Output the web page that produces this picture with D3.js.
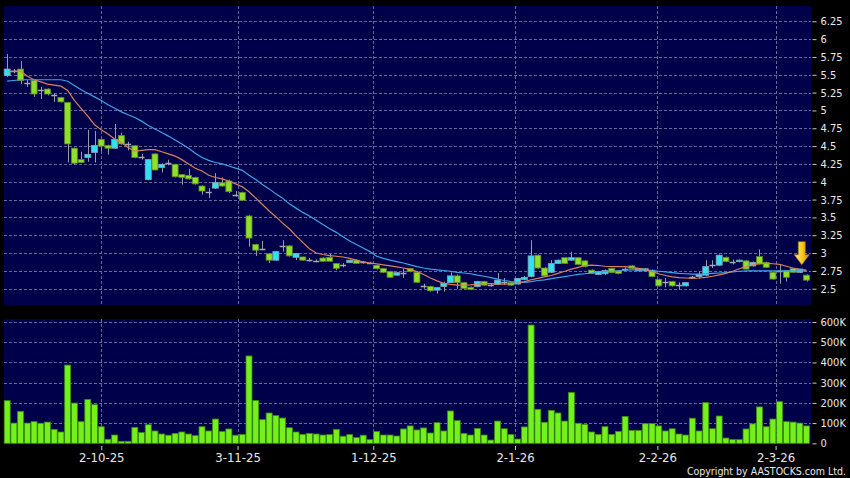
<!DOCTYPE html>
<html>
<head>
<meta charset="utf-8">
<script src="https://cdn.jsdelivr.net/npm/d3@7/dist/d3.min.js"></script>
<style>
body { margin: 0; background: #000; }
svg { display: block; }
</style>
</head>
<body>
<div id="chart"></div>
<script>
const w = 850;
const h = 478;

// daily OHLC, index 0 = first trading day shown
const open = [5.49,5.56,5.58,5.39,5.42,5.28,5.30,5.22,5.18,5.11,
  4.47,4.31,4.34,4.41,4.595,4.51,4.47,4.65,4.525,4.505,
  4.35,4.03,4.39,4.20,4.26,4.245,4.10,4.09,4.06,3.94,
  3.86,3.91,3.985,4.01,3.82,3.85,3.52,3.12,3.06,2.99,
  2.90,3.10,3.10,2.94,2.945,2.905,2.89,2.93,2.94,2.855,
  2.83,2.865,2.90,2.87,2.865,2.83,2.785,2.74,2.69,2.725,
  2.785,2.73,2.54,2.53,2.48,2.53,2.585,2.68,2.585,2.52,
  2.53,2.60,2.555,2.56,2.60,2.585,2.565,2.63,2.67,2.97,
  2.79,2.73,2.855,2.935,2.90,2.935,2.89,2.76,2.70,2.71,
  2.785,2.75,2.775,2.82,2.75,2.75,2.76,2.63,2.59,2.60,
  2.55,2.54,2.66,2.67,2.69,2.83,2.83,2.94,2.87,2.88,
  2.89,2.82,2.95,2.87,2.73,2.75,2.75,2.785,2.73,2.69];
const close = [5.58,5.56,5.42,5.39,5.23,5.28,5.23,5.22,5.12,4.53,
  4.26,4.27,4.385,4.51,4.50,4.47,4.595,4.53,4.525,4.34,
  4.35,4.31,4.165,4.245,4.26,4.07,4.06,4.04,3.97,3.87,
  3.86,3.99,3.94,3.86,3.82,3.74,3.21,3.04,3.06,2.90,
  3.02,3.10,2.96,2.995,2.90,2.905,2.89,2.885,2.885,2.785,
  2.83,2.90,2.855,2.87,2.865,2.78,2.73,2.66,2.725,2.725,
  2.74,2.59,2.54,2.47,2.515,2.575,2.68,2.585,2.505,2.49,
  2.60,2.55,2.555,2.62,2.60,2.55,2.645,2.66,2.96,2.79,
  2.68,2.855,2.90,2.855,2.935,2.84,2.81,2.715,2.74,2.755,
  2.725,2.715,2.775,2.785,2.785,2.78,2.67,2.54,2.59,2.54,
  2.55,2.585,2.66,2.70,2.81,2.83,2.97,2.88,2.87,2.90,
  2.775,2.87,2.845,2.80,2.635,2.75,2.66,2.73,2.775,2.62];
const high = [5.79,5.58,5.69,5.43,5.43,5.33,5.31,5.24,5.19,5.12,
  4.48,4.42,4.73,4.71,4.60,4.52,4.81,4.69,4.56,4.51,
  4.39,4.32,4.40,4.26,4.31,4.25,4.11,4.18,4.07,3.95,
  3.91,4.12,4.06,4.03,3.87,3.86,3.53,3.13,3.17,3.00,
  3.03,3.18,3.11,3.00,2.95,2.93,2.91,2.94,2.99,2.86,
  2.86,2.91,2.91,2.89,2.88,2.84,2.79,2.75,2.73,2.78,
  2.79,2.74,2.57,2.54,2.52,2.60,2.73,2.70,2.59,2.53,
  2.61,2.61,2.57,2.72,2.65,2.59,2.65,2.68,3.18,2.98,
  2.80,2.90,2.91,2.94,3.02,2.94,2.90,2.77,2.75,2.77,
  2.79,2.76,2.80,2.83,2.79,2.79,2.77,2.64,2.65,2.61,
  2.59,2.59,2.68,2.74,2.90,2.90,2.98,2.95,2.91,2.91,
  2.90,2.88,3.05,2.88,2.74,2.83,2.76,2.79,2.78,2.70];
const low = [5.47,5.52,5.37,5.33,5.19,5.16,5.21,5.12,5.11,4.27,
  4.24,4.26,4.28,4.27,4.43,4.38,4.46,4.52,4.44,4.33,
  4.31,4.02,4.16,4.13,4.23,4.06,3.96,4.03,3.96,3.82,
  3.77,3.90,3.93,3.84,3.79,3.73,3.09,2.96,3.04,2.86,
  2.89,3.02,2.95,2.90,2.89,2.88,2.87,2.88,2.88,2.76,
  2.80,2.86,2.85,2.85,2.85,2.77,2.72,2.65,2.68,2.65,
  2.73,2.58,2.50,2.46,2.43,2.46,2.58,2.50,2.49,2.48,
  2.52,2.54,2.53,2.55,2.55,2.54,2.56,2.62,2.66,2.78,
  2.67,2.72,2.85,2.85,2.89,2.83,2.80,2.71,2.69,2.69,
  2.72,2.70,2.75,2.77,2.74,2.74,2.66,2.53,2.52,2.53,
  2.49,2.53,2.64,2.64,2.68,2.79,2.82,2.87,2.84,2.87,
  2.77,2.81,2.84,2.79,2.63,2.57,2.60,2.72,2.72,2.60];

// volume in thousands of shares
const volume = [211,100,158,100,107,99,105,69,56,387,
  199,107,217,191,82,20,41,10,10,79,
  53,92,61,46,40,49,56,46,38,82,
  61,120,58,71,40,44,432,212,117,150,
  137,125,77,56,44,49,46,41,43,69,
  35,43,28,40,18,59,41,41,36,71,
  86,66,76,51,102,61,160,112,49,41,
  74,41,16,110,72,43,21,81,585,168,
  104,163,150,110,252,99,94,56,44,82,
  44,59,133,64,64,97,97,86,61,72,
  46,41,124,61,201,72,135,26,18,18,
  71,96,180,82,120,206,107,105,100,86];

// moving averages as drawn (orange = short, blue = long)
const maShort = [5.54,5.55,5.55,5.48,5.43,5.40,5.37,5.355,5.34,5.28,
  5.14,5.03,4.92,4.80,4.73,4.67,4.60,4.55,4.48,4.43,
  4.44,4.45,4.45,4.42,4.39,4.36,4.31,4.25,4.19,4.15,
  4.09,4.06,4.04,4.01,3.97,3.93,3.86,3.77,3.68,3.59,
  3.51,3.42,3.34,3.24,3.15,3.06,3.00,2.98,2.965,2.955,
  2.945,2.925,2.90,2.875,2.86,2.85,2.835,2.82,2.805,2.79,
  2.77,2.74,2.70,2.65,2.61,2.575,2.56,2.55,2.55,2.555,
  2.565,2.57,2.57,2.565,2.565,2.57,2.58,2.60,2.625,2.645,
  2.665,2.685,2.715,2.745,2.775,2.80,2.825,2.83,2.825,2.815,
  2.81,2.81,2.81,2.80,2.785,2.765,2.74,2.71,2.685,2.665,
  2.655,2.65,2.645,2.65,2.66,2.675,2.695,2.715,2.745,2.78,
  2.81,2.835,2.855,2.855,2.85,2.84,2.815,2.79,2.77,2.76];
const maLong = [5.41,5.42,5.43,5.43,5.43,5.43,5.43,5.43,5.43,5.41,
  5.35,5.29,5.24,5.19,5.14,5.08,5.03,4.98,4.94,4.90,
  4.85,4.79,4.74,4.69,4.64,4.585,4.53,4.47,4.40,4.34,
  4.30,4.27,4.25,4.22,4.19,4.16,4.09,4.03,3.96,3.90,
  3.83,3.77,3.69,3.63,3.57,3.52,3.46,3.40,3.34,3.29,
  3.23,3.17,3.12,3.07,3.02,2.955,2.925,2.90,2.88,2.86,
  2.835,2.81,2.79,2.775,2.765,2.755,2.745,2.73,2.72,2.71,
  2.69,2.675,2.655,2.635,2.615,2.60,2.59,2.59,2.60,2.615,
  2.625,2.64,2.655,2.67,2.685,2.70,2.71,2.72,2.735,2.74,
  2.745,2.75,2.76,2.765,2.765,2.76,2.755,2.745,2.735,2.725,
  2.715,2.71,2.705,2.705,2.71,2.715,2.72,2.725,2.735,2.745,
  2.75,2.75,2.75,2.75,2.75,2.75,2.75,2.75,2.75,2.75];

const priceTicks = [2.5,2.75,3,3.25,3.5,3.75,4,4.25,4.5,4.75,5,5.25,5.5,5.75,6,6.25];
const volTicks = [0,100,200,300,400,500,600];
const dateTicks = [14, 34.3, 54.5, 75.6, 96.8, 114.4];
const dateLabels = ['2-10-25','3-11-25','1-12-25','2-1-26','2-2-26','2-3-26'];
const markerDay = 118;

const left = 4, right = 811;
const pTop = 6, pBottom = 305;
const vTop = 319, vBottom = 444;
const bodyW = 6;
const font = "'DejaVu Sans Condensed', 'DejaVu Sans', sans-serif";

const x = d3.scaleLinear().domain([0, volume.length - 1]).range([7.2, 806.5]);
const y = d3.scaleLinear().domain([2.5, 6.25]).range([288.7, 21.3]);
const yv = d3.scaleLinear().domain([0, 600]).range([443.3, 322]);

const svg = d3.select('#chart').append('svg').attr('width', w).attr('height', h)
  .style('font-family', font);

svg.append('rect').attr('width', w).attr('height', h).attr('fill', '#000');

// panels
svg.append('rect').attr('x', left).attr('y', pTop).attr('width', right - left).attr('height', pBottom - pTop).attr('fill', '#00004a');
svg.append('rect').attr('x', left).attr('y', vTop).attr('width', right - left).attr('height', vBottom - vTop).attr('fill', '#00004a');

const gridColor = '#66669a';

// price grid
svg.append('g').selectAll('line').data(priceTicks).enter().append('line')
  .attr('x1', left).attr('x2', right)
  .attr('y1', d => Math.round(y(d)) + 0.5).attr('y2', d => Math.round(y(d)) + 0.5)
  .attr('stroke', gridColor).attr('stroke-dasharray', '3,2');
svg.append('g').selectAll('line').data(dateTicks).enter().append('line')
  .attr('x1', d => Math.round(x(d)) + 0.5).attr('x2', d => Math.round(x(d)) + 0.5)
  .attr('y1', pTop).attr('y2', pBottom)
  .attr('stroke', gridColor).attr('stroke-dasharray', '3,2');

// volume grid
svg.append('g').selectAll('line').data(volTicks.filter(d => d > 0)).enter().append('line')
  .attr('x1', left).attr('x2', right)
  .attr('y1', d => Math.round(yv(d)) + 0.5).attr('y2', d => Math.round(yv(d)) + 0.5)
  .attr('stroke', gridColor).attr('stroke-dasharray', '3,2');
svg.append('g').selectAll('line').data(dateTicks).enter().append('line')
  .attr('x1', d => Math.round(x(d)) + 0.5).attr('x2', d => Math.round(x(d)) + 0.5)
  .attr('y1', vTop).attr('y2', vBottom)
  .attr('stroke', gridColor).attr('stroke-dasharray', '3,2');

// volume bars
svg.append('g').selectAll('rect').data(volume).enter().append('rect')
  .attr('x', (d, i) => x(i) - bodyW / 2)
  .attr('y', d => yv(d))
  .attr('width', bodyW)
  .attr('height', d => yv(0) - yv(d))
  .attr('fill', '#74f01c')
  .attr('stroke', '#3b8a0c')
  .attr('stroke-width', 0.8);

// candles
const days = d3.range(volume.length);
const kind = i => close[i] > open[i] ? 'up' : (close[i] < open[i] ? 'down' : 'flat');

svg.append('g').selectAll('line').data(days).enter().append('line')
  .attr('x1', i => Math.round(x(i)) + 0.5).attr('x2', i => Math.round(x(i)) + 0.5)
  .attr('y1', i => y(high[i])).attr('y2', i => y(low[i]))
  .attr('stroke', '#9a9aa4').attr('stroke-width', 1);

svg.append('g').selectAll('rect').data(days.filter(i => kind(i) !== 'flat')).enter().append('rect')
  .attr('x', i => x(i) - bodyW / 2)
  .attr('y', i => y(Math.max(open[i], close[i])))
  .attr('width', bodyW)
  .attr('height', i => Math.max(1, y(Math.min(open[i], close[i])) - y(Math.max(open[i], close[i]))))
  .attr('fill', i => kind(i) === 'up' ? '#2fe2f2' : '#8ee02a')
  .attr('stroke', i => kind(i) === 'up' ? '#8aa0b4' : '#5d8a22')
  .attr('stroke-width', 0.8);

svg.append('g').selectAll('line').data(days.filter(i => kind(i) === 'flat')).enter().append('line')
  .attr('x1', i => x(i) - bodyW / 2).attr('x2', i => x(i) + bodyW / 2)
  .attr('y1', i => Math.round(y(open[i])) + 0.5).attr('y2', i => Math.round(y(open[i])) + 0.5)
  .attr('stroke', '#a8a8b0').attr('stroke-width', 1.5);

// moving averages
const line = d3.line().x((d, i) => x(i)).y(d => y(d));
svg.append('path').datum(maLong).attr('d', line).attr('fill', 'none').attr('stroke', '#3ea4e6').attr('stroke-width', 1.2);
svg.append('path').datum(maShort).attr('d', line).attr('fill', 'none').attr('stroke', '#d8825a').attr('stroke-width', 1.2);

// marker arrow above the flagged day
const defs = svg.append('defs');
const grad = defs.append('linearGradient').attr('id', 'arrowGrad').attr('x1', '0').attr('x2', '1');
grad.append('stop').attr('offset', '0%').attr('stop-color', '#fff08a');
grad.append('stop').attr('offset', '55%').attr('stop-color', '#f7c51c');
grad.append('stop').attr('offset', '100%').attr('stop-color', '#c88a00');
const ax = x(markerDay) + 2, ay = y(high[markerDay]) - 4;
svg.append('path')
  .attr('d', `M${ax - 3.5},${ay - 23} L${ax + 3.5},${ay - 23} L${ax + 3.5},${ay - 10} L${ax + 7.5},${ay - 10} L${ax},${ay} L${ax - 7.5},${ay - 10} L${ax - 3.5},${ay - 10} Z`)
  .attr('fill', 'url(#arrowGrad)')
  .attr('stroke', '#b07800').attr('stroke-width', 0.6);

// axes
const priceAxis = d3.axisRight(y).tickValues(priceTicks).tickSize(4).tickPadding(4)
  .tickFormat(d => d3.format('')(d));
const ga = svg.append('g').attr('transform', `translate(${right + 1.5},0)`).call(priceAxis);

const volAxis = d3.axisRight(yv).tickValues(volTicks).tickSize(4).tickPadding(4)
  .tickFormat(d => d === 0 ? '0' : d + 'K');
const gv = svg.append('g').attr('transform', `translate(${right + 1.5},0)`).call(volAxis);

const dateAxis = d3.axisBottom(x).tickValues(dateTicks).tickSize(4).tickPadding(3)
  .tickFormat((d, i) => dateLabels[i]);
const gd = svg.append('g').attr('transform', `translate(0,${vBottom + 2})`).call(dateAxis);

[ga, gv, gd].forEach(g => {
  g.select('.domain').remove();
  g.selectAll('.tick line').attr('stroke', '#c8c8c8');
  g.selectAll('.tick text').attr('fill', '#e8e8e8').style('font-family', font);
});
ga.selectAll('.tick text').style('font-size', '11px');
gv.selectAll('.tick text').style('font-size', '11px');
gd.selectAll('.tick text').style('font-size', '13px');

svg.append('text')
  .attr('x', 846).attr('y', 475)
  .attr('text-anchor', 'end')
  .attr('fill', '#e8e8e8')
  .style('font-size', '10.5px')
  .text('Copyright by AASTOCKS.com Ltd.');
</script>
</body>
</html>
